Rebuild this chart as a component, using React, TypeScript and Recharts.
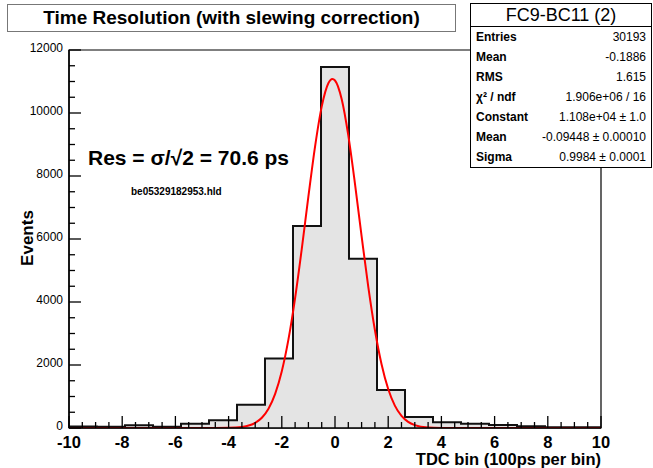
import React from "react";
import {
  Area,
  ComposedChart,
  Line,
  ReferenceArea,
  XAxis,
  YAxis,
} from "recharts";

// histogram: 19 bins between -10 and 10
const binEdges = [
  -10, -8.947, -7.895, -6.842, -5.789, -4.737, -3.684, -2.632, -1.579, -0.526,
  0.526, 1.579, 2.632, 3.684, 4.737, 5.789, 6.842, 7.895, 8.947, 10,
];
const binCounts = [
  45, 40, 85, 40, 135, 250, 740, 2210, 6410, 11460, 5370, 1205, 350, 185, 135,
  95, 55, 22, 20,
];

// gaussian fit
const fitX = [
  -10, -5, -4.5, -4, -3.5, -3, -2.75, -2.5, -2.25, -2, -1.75, -1.5, -1.25, -1,
  -0.75, -0.5, -0.25, -0.1, 0, 0.25, 0.5, 0.75, 1, 1.25, 1.5, 1.75, 2, 2.25,
  2.5, 2.75, 3, 3.5, 4, 4.5, 5, 10,
];
const fitY = [
  0, 0, 1, 5, 34, 163, 326, 613, 1085, 1802, 2812, 4124, 5681, 7351, 8935,
  10203, 10946, 11080, 11031, 10443, 9288, 7759, 6091, 4491, 3110, 2024, 1237,
  710, 383, 194, 93, 17, 3, 0, 0, 0,
];

const statsRows = [
  ["Entries", "30193"],
  ["Mean", "-0.1886"],
  ["RMS", "1.615"],
  ["χ² / ndf", "1.906e+06 / 16"],
  ["Constant", "1.108e+04 ± 1.0"],
  ["Mean", "-0.09448 ± 0.00010"],
  ["Sigma", "0.9984 ± 0.0001"],
];

const histData = binEdges.map((x, i) => ({
  x,
  n: binCounts[Math.min(i, binCounts.length - 1)],
}));
const fitData = fitX.map((x, i) => ({ x, f: fitY[i] }));

// major ticks every 2 (x) / 2000 (y), minor ones in between
const xTicks: number[] = [];
for (let v = -10; v <= 10.001; v += 0.5) xTicks.push(Math.round(v * 10) / 10);
const yTicks: number[] = [];
for (let v = 0; v <= 12000; v += 500) yTicks.push(v);

const FONT = "'Liberation Sans', Arial, Helvetica, sans-serif";
const M = 6;

function XTick(props: any) {
  const { x, y, payload } = props;
  const v = payload.value as number;
  const major = Math.abs(v % 2) < 1e-6;
  const axisY = y - M;
  return (
    <g>
      <line x1={x} x2={x} y1={axisY} y2={axisY - (major ? 12 : 6)} stroke="#000" strokeWidth={1.3} />
      {major && (
        <text x={x} y={axisY + 20} textAnchor="middle" fontFamily={FONT} fontWeight="bold" fontSize={16.5} fill="#000">
          {v}
        </text>
      )}
    </g>
  );
}

function YTick(props: any) {
  const { x, y, payload } = props;
  const v = payload.value as number;
  const major = v % 2000 === 0;
  const axisX = x + M;
  return (
    <g>
      <line x1={axisX} x2={axisX + (major ? 12 : 6)} y1={y} y2={y} stroke="#000" strokeWidth={1.3} />
      {major && (
        <text x={axisX - 6} y={y + 2} textAnchor="end" fontFamily={FONT} fontSize={12} fill="#000">
          {v}
        </text>
      )}
    </g>
  );
}

export default function App() {
  return (
    <div style={{ position: "absolute", left: 0, top: 0, width: 653, height: 468, background: "#fff", fontFamily: FONT }}>
      <ComposedChart width={653} height={468} margin={{ top: 50, right: 52, bottom: 10, left: 9 }}>
        <XAxis
          type="number"
          dataKey="x"
          domain={[-10, 10]}
          ticks={xTicks}
          interval={0}
          allowDataOverflow
          height={30}
          tickSize={0}
          tickMargin={M}
          tick={<XTick />}
          axisLine={{ stroke: "#000", strokeWidth: 1.5 }}
        />
        <YAxis
          type="number"
          domain={[0, 12000]}
          ticks={yTicks}
          interval={0}
          allowDataOverflow
          width={60}
          tickSize={0}
          tickMargin={M}
          tick={<YTick />}
          axisLine={{ stroke: "#000", strokeWidth: 1.5 }}
        />
        <ReferenceArea x1={-10} x2={10} y1={0} y2={12000} fill="none" stroke="#000" strokeWidth={1.2} ifOverflow="visible" />
        <Area
          data={histData}
          dataKey="n"
          type="stepAfter"
          fill="#e4e4e4"
          fillOpacity={1}
          stroke="#111"
          strokeWidth={2}
          isAnimationActive={false}
          dot={false}
          activeDot={false}
        />
        <Line
          data={fitData}
          dataKey="f"
          type="monotone"
          stroke="#ff0000"
          strokeWidth={2}
          dot={false}
          activeDot={false}
          isAnimationActive={false}
        />
      </ComposedChart>

      {/* title box */}
      <div
        style={{
          position: "absolute", left: 7, top: 4, width: 447, height: 26,
          border: "1px solid #777", background: "#fff", textAlign: "center",
          fontWeight: "bold", fontSize: 19, lineHeight: "26px", color: "#000",
        }}
      >
        Time Resolution (with slewing correction)
      </div>

      {/* stats box */}
      <div
        style={{
          position: "absolute", left: 470, top: 3, width: 180, height: 163,
          border: "1px solid #000", background: "#fff", color: "#000",
        }}
      >
        <div style={{ textAlign: "center", fontSize: 18, lineHeight: "22px", height: 22, borderBottom: "1px solid #000" }}>
          FC9-BC11 (2)
        </div>
        {statsRows.map(([k, v], i) => (
          <div key={i} style={{ display: "flex", justifyContent: "space-between", padding: "0 5px", height: 20, lineHeight: "20px", fontSize: 12 }}>
            <span style={{ fontWeight: "bold" }}>{k}</span>
            <span>{v}</span>
          </div>
        ))}
      </div>

      <div style={{ position: "absolute", left: 88, top: 146, fontSize: 21, fontWeight: "bold", whiteSpace: "nowrap" }}>
        Res = σ/√2 = 70.6 ps
      </div>
      <div style={{ position: "absolute", left: 131, top: 186, fontSize: 10, fontWeight: "bold", whiteSpace: "nowrap" }}>
        be05329182953.hld
      </div>

      <div
        style={{
          position: "absolute", left: 28, top: 238, fontSize: 17, fontWeight: "bold",
          transform: "translate(-50%, -50%) rotate(-90deg)", whiteSpace: "nowrap",
        }}
      >
        Events
      </div>
      <div style={{ position: "absolute", right: 52, top: 451, fontSize: 16.5, lineHeight: "16px", fontWeight: "bold", whiteSpace: "nowrap" }}>
        TDC bin (100ps per bin)
      </div>
    </div>
  );
}
